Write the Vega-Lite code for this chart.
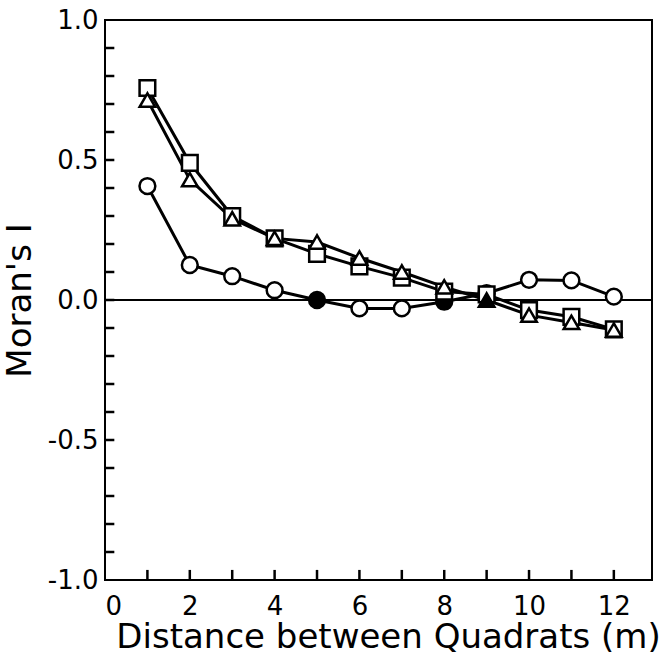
{
  "$schema": "https://vega.github.io/schema/vega-lite/v6.json",
  "autosize": {"type": "none"},
  "padding": {"left": 105, "top": 20, "right": 13, "bottom": 77},
  "width": 547,
  "height": 560,
  "background": "white",
  "config": {
    "view": {"stroke": "black", "strokeWidth": 2},
    "axis": {
      "grid": false,
      "domain": false,
      "ticks": false,
      "labelColor": "black",
      "titleColor": "black",
      "labelFont": "DejaVu Sans",
      "titleFont": "DejaVu Sans",
      "labelFontSize": 26,
      "titleFontSize": 34,
      "titleFontWeight": "normal"
    }
  },
  "datasets": {
    "moran": [
      {"d": 1, "series": "A", "I": 0.407, "sig": "n"},
      {"d": 2, "series": "A", "I": 0.125, "sig": "n"},
      {"d": 3, "series": "A", "I": 0.085, "sig": "n"},
      {"d": 4, "series": "A", "I": 0.035, "sig": "n"},
      {"d": 5, "series": "A", "I": 0.0, "sig": "y"},
      {"d": 6, "series": "A", "I": -0.03, "sig": "n"},
      {"d": 7, "series": "A", "I": -0.03, "sig": "n"},
      {"d": 8, "series": "A", "I": -0.006, "sig": "y"},
      {"d": 9, "series": "A", "I": 0.024, "sig": "n"},
      {"d": 10, "series": "A", "I": 0.072, "sig": "n"},
      {"d": 11, "series": "A", "I": 0.07, "sig": "n"},
      {"d": 12, "series": "A", "I": 0.012, "sig": "n"},
      {"d": 1, "series": "B", "I": 0.757, "sig": "n"},
      {"d": 2, "series": "B", "I": 0.49, "sig": "n"},
      {"d": 3, "series": "B", "I": 0.30, "sig": "n"},
      {"d": 4, "series": "B", "I": 0.22, "sig": "n"},
      {"d": 5, "series": "B", "I": 0.165, "sig": "n"},
      {"d": 6, "series": "B", "I": 0.12, "sig": "n"},
      {"d": 7, "series": "B", "I": 0.08, "sig": "n"},
      {"d": 8, "series": "B", "I": 0.03, "sig": "n"},
      {"d": 9, "series": "B", "I": 0.02, "sig": "n"},
      {"d": 10, "series": "B", "I": -0.036, "sig": "n"},
      {"d": 11, "series": "B", "I": -0.06, "sig": "n"},
      {"d": 12, "series": "B", "I": -0.105, "sig": "n"},
      {"d": 1, "series": "C", "I": 0.714, "sig": "n"},
      {"d": 2, "series": "C", "I": 0.43, "sig": "n"},
      {"d": 3, "series": "C", "I": 0.29, "sig": "n"},
      {"d": 4, "series": "C", "I": 0.22, "sig": "n"},
      {"d": 5, "series": "C", "I": 0.207, "sig": "n"},
      {"d": 6, "series": "C", "I": 0.15, "sig": "n"},
      {"d": 7, "series": "C", "I": 0.10, "sig": "n"},
      {"d": 8, "series": "C", "I": 0.047, "sig": "n"},
      {"d": 9, "series": "C", "I": 0.0, "sig": "y"},
      {"d": 10, "series": "C", "I": -0.054, "sig": "n"},
      {"d": 11, "series": "C", "I": -0.08, "sig": "n"},
      {"d": 12, "series": "C", "I": -0.107, "sig": "n"}
    ],
    "xticks": [
      {"d": 1}, {"d": 2}, {"d": 3}, {"d": 4}, {"d": 5}, {"d": 6},
      {"d": 7}, {"d": 8}, {"d": 9}, {"d": 10}, {"d": 11}, {"d": 12}
    ],
    "yticks": [
      {"I": -0.9}, {"I": -0.8}, {"I": -0.7}, {"I": -0.6}, {"I": -0.5},
      {"I": -0.4}, {"I": -0.3}, {"I": -0.2}, {"I": -0.1}, {"I": 0},
      {"I": 0.1}, {"I": 0.2}, {"I": 0.3}, {"I": 0.4}, {"I": 0.5},
      {"I": 0.6}, {"I": 0.7}, {"I": 0.8}, {"I": 0.9}
    ]
  },
  "layer": [
    {
      "data": {"name": "moran"},
      "encoding": {
        "x": {
          "field": "d",
          "type": "quantitative",
          "scale": {"domain": [0, 12.9], "nice": false, "zero": false},
          "axis": {
            "orient": "bottom",
            "title": "Distance between Quadrats (m)",
            "values": [0, 2, 4, 6, 8, 10, 12],
            "labelPadding": 13,
            "titlePadding": 1,
            "titleX": 283
          }
        },
        "y": {
          "field": "I",
          "type": "quantitative",
          "scale": {"domain": [-1, 1], "nice": false},
          "axis": {
            "orient": "left",
            "title": "Moran's I",
            "values": [-1, -0.5, 0, 0.5, 1],
            "labelExpr": "replace(format(datum.value, '.1f'), '−', '-')",
            "labelPadding": 7,
            "titlePadding": 10
          }
        }
      },
      "layer": [
        {
          "mark": {"type": "rule", "color": "black", "strokeWidth": 1.5},
          "encoding": {"y": {"datum": 0}, "x": {"datum": 0}, "x2": {"datum": 12.9}}
        },
        {
          "mark": {"type": "line", "color": "black", "strokeWidth": 3},
          "encoding": {"detail": {"field": "series"}}
        },
        {
          "mark": {"type": "point", "filled": false, "stroke": "black", "strokeWidth": 2.5, "opacity": 1},
          "encoding": {
            "shape": {
              "field": "series",
              "scale": {"domain": ["A", "B", "C"], "range": ["circle", "square", "triangle-up"]},
              "legend": null
            },
            "size": {
              "field": "series",
              "scale": {"domain": ["A", "B", "C"], "range": [250, 240, 310]},
              "legend": null
            },
            "fill": {
              "field": "sig",
              "scale": {"domain": ["n", "y"], "range": ["white", "black"]},
              "legend": null
            }
          }
        }
      ]
    },
    {
      "data": {"name": "xticks"},
      "mark": {"type": "rule", "color": "black", "strokeWidth": 2.5},
      "encoding": {
        "x": {"field": "d", "type": "quantitative"},
        "y": {"datum": -1},
        "y2": {"datum": -0.964}
      }
    },
    {
      "data": {"name": "yticks"},
      "mark": {"type": "rule", "color": "black", "strokeWidth": 2.5},
      "encoding": {
        "y": {"field": "I", "type": "quantitative"},
        "x": {"datum": 0},
        "x2": {"datum": 0.22}
      }
    }
  ]
}
